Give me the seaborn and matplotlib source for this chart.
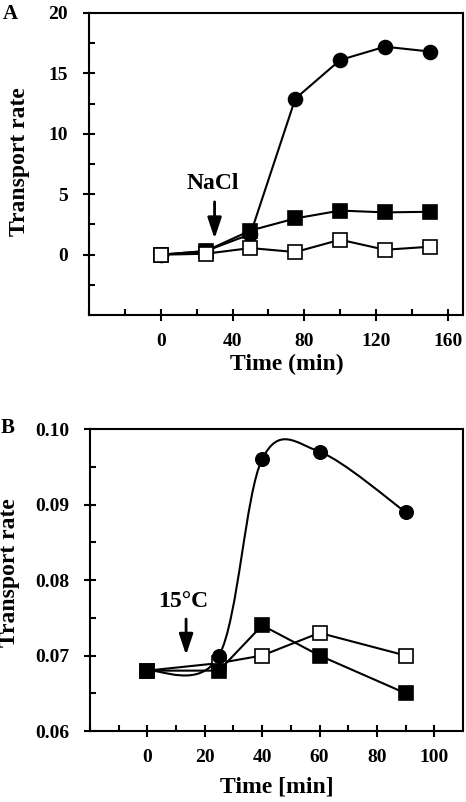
import numpy as np
import matplotlib
matplotlib.use("Agg")
import matplotlib.pyplot as plt
from matplotlib.path import Path
from matplotlib.patches import PathPatch
from matplotlib.ticker import FixedLocator
import seaborn as sns

sns.set_theme(style="ticks")
plt.rcParams["font.family"] = ["Liberation Serif", "DejaVu Serif"]
plt.rcParams["font.weight"] = "bold"
for k in ["text.color", "axes.labelcolor", "xtick.color", "ytick.color",
          "axes.edgecolor"]:
    plt.rcParams[k] = "black"

# Panel A data (NaCl)
time_a = [0, 25, 50, 75, 100, 125, 150]
circ_a = [0.0, 0.3, 1.7, 12.9, 16.1, 17.2, 16.8]
fsq_a = [0.0, 0.3, 2.0, 3.0, 3.65, 3.5, 3.55]
osq_a = [0.0, 0.08, 0.55, 0.22, 1.24, 0.41, 0.66]

# Panel B data (15°C)
time_b = [0, 25, 40, 60, 90]
circ_b = [0.068, 0.070, 0.096, 0.097, 0.089]
fsq_b = [0.068, 0.068, 0.074, 0.070, 0.065]
osq_b = [0.068, 0.069, 0.070, 0.073, 0.070]

fig = plt.figure(figsize=(4.66, 8.02), dpi=100)
ax1 = fig.add_axes([0.191, 0.607, 0.8026, 0.377])
ax2 = fig.add_axes([0.193, 0.0885, 0.8006, 0.3765])

line_kw = dict(color="black", linewidth=1.5)


def series(ax, x, y, marker, face, ms, z):
    sns.lineplot(x=x, y=y, ax=ax, marker=marker, markersize=ms,
                 markerfacecolor=face, markeredgecolor="black",
                 markeredgewidth=1.2, zorder=z, **line_kw)


arrow_kw = dict(arrowstyle="-|>,head_length=0.9,head_width=0.3",
                color="black", lw=2, mutation_scale=14)

# A
series(ax1, time_a, circ_a, "o", "black", 10, 3)
series(ax1, time_a, fsq_a, "s", "black", 9.5, 4)
series(ax1, time_a, osq_a, "s", "white", 9.5, 5)
ax1.set_xlim(-40, 168.5)
ax1.set_ylim(-5, 20)
ax1.xaxis.set_major_locator(FixedLocator([0, 40, 80, 120, 160]))
ax1.xaxis.set_minor_locator(FixedLocator([-40, -20, 20, 60, 100, 140]))
ax1.yaxis.set_major_locator(FixedLocator([0, 5, 10, 15, 20]))
ax1.yaxis.set_minor_locator(FixedLocator([-5, -2.5, 2.5, 7.5, 12.5, 17.5]))
ax1.set_xlabel("Time (min)", fontsize=17, fontweight="bold")
ax1.annotate("", xy=(30, 1.1), xytext=(30, 4.6), arrowprops=arrow_kw)
ax1.text(29, 5.9, "NaCl", ha="center", va="center", fontsize=17,
         fontweight="bold")
fig.text(0.006, 0.983, "A", fontsize=15, fontweight="bold", va="center")

# B: smoothed line for circles (Excel-like bezier through the points)
pts = np.column_stack([time_b, circ_b])
verts = [pts[0]]
codes = [Path.MOVETO]
n = len(pts)
for i in range(n - 1):
    p0 = pts[max(i - 1, 0)]
    p1 = pts[i]
    p2 = pts[i + 1]
    p3 = pts[min(i + 2, n - 1)]
    verts += [p1 + (p2 - p0) / 6, p2 - (p3 - p1) / 6, p2]
    codes += [Path.CURVE4] * 3
ax2.add_patch(PathPatch(Path(verts, codes), facecolor="none",
                        edgecolor="black", lw=1.5, zorder=3))
sns.scatterplot(x=time_b, y=circ_b, ax=ax2, marker="o", s=100,
                color="black", edgecolor="black", zorder=4)
series(ax2, time_b, osq_b, "s", "white", 9.5, 3)
series(ax2, time_b, fsq_b, "s", "black", 9.5, 5)
ax2.set_xlim(-20, 110)
ax2.set_ylim(0.06, 0.10)
ax2.xaxis.set_major_locator(FixedLocator([0, 20, 40, 60, 80, 100]))
ax2.xaxis.set_minor_locator(FixedLocator([-20, -10, 10, 30, 50, 70, 90]))
ax2.yaxis.set_major_locator(FixedLocator([0.06, 0.07, 0.08, 0.09, 0.10]))
ax2.yaxis.set_minor_locator(FixedLocator([0.065, 0.075, 0.085, 0.095]))
ax2.set_yticklabels(["0.06", "0.07", "0.08", "0.09", "0.10"])
ax2.set_xlabel("Time [min]", fontsize=17, fontweight="bold")
ax2.annotate("", xy=(13.5, 0.0697), xytext=(13.5, 0.0752),
             arrowprops=arrow_kw)
ax2.text(12.4, 0.0772, "15°C", ha="center", va="center", fontsize=17,
         fontweight="bold")
fig.text(0.002, 0.466, "B", fontsize=15, fontweight="bold", va="center")

for ax in (ax1, ax2):
    ax.set_ylabel("Transport rate", fontsize=17, fontweight="bold")
    for s in ax.spines.values():
        s.set_linewidth(1.5)
        s.set_color("black")
    ax.tick_params(which="major", direction="inout", length=8, width=1.5,
                   labelsize=14, color="black")
    ax.tick_params(axis="x", which="major", pad=9)
    ax.tick_params(axis="y", which="major", pad=11)
    ax.tick_params(which="minor", direction="in", length=4, width=1.5,
                   color="black")
    for lab in ax.get_xticklabels() + ax.get_yticklabels():
        lab.set_fontweight("bold")
    if ax.get_legend():
        ax.get_legend().remove()

ax1.yaxis.set_label_coords(-0.158, 0.507)
ax2.yaxis.set_label_coords(-0.188, 0.526)
ax1.xaxis.set_label_coords(0.529, -0.128)
ax2.xaxis.set_label_coords(0.501, -0.15)

fig.savefig("out.png", dpi=100)
